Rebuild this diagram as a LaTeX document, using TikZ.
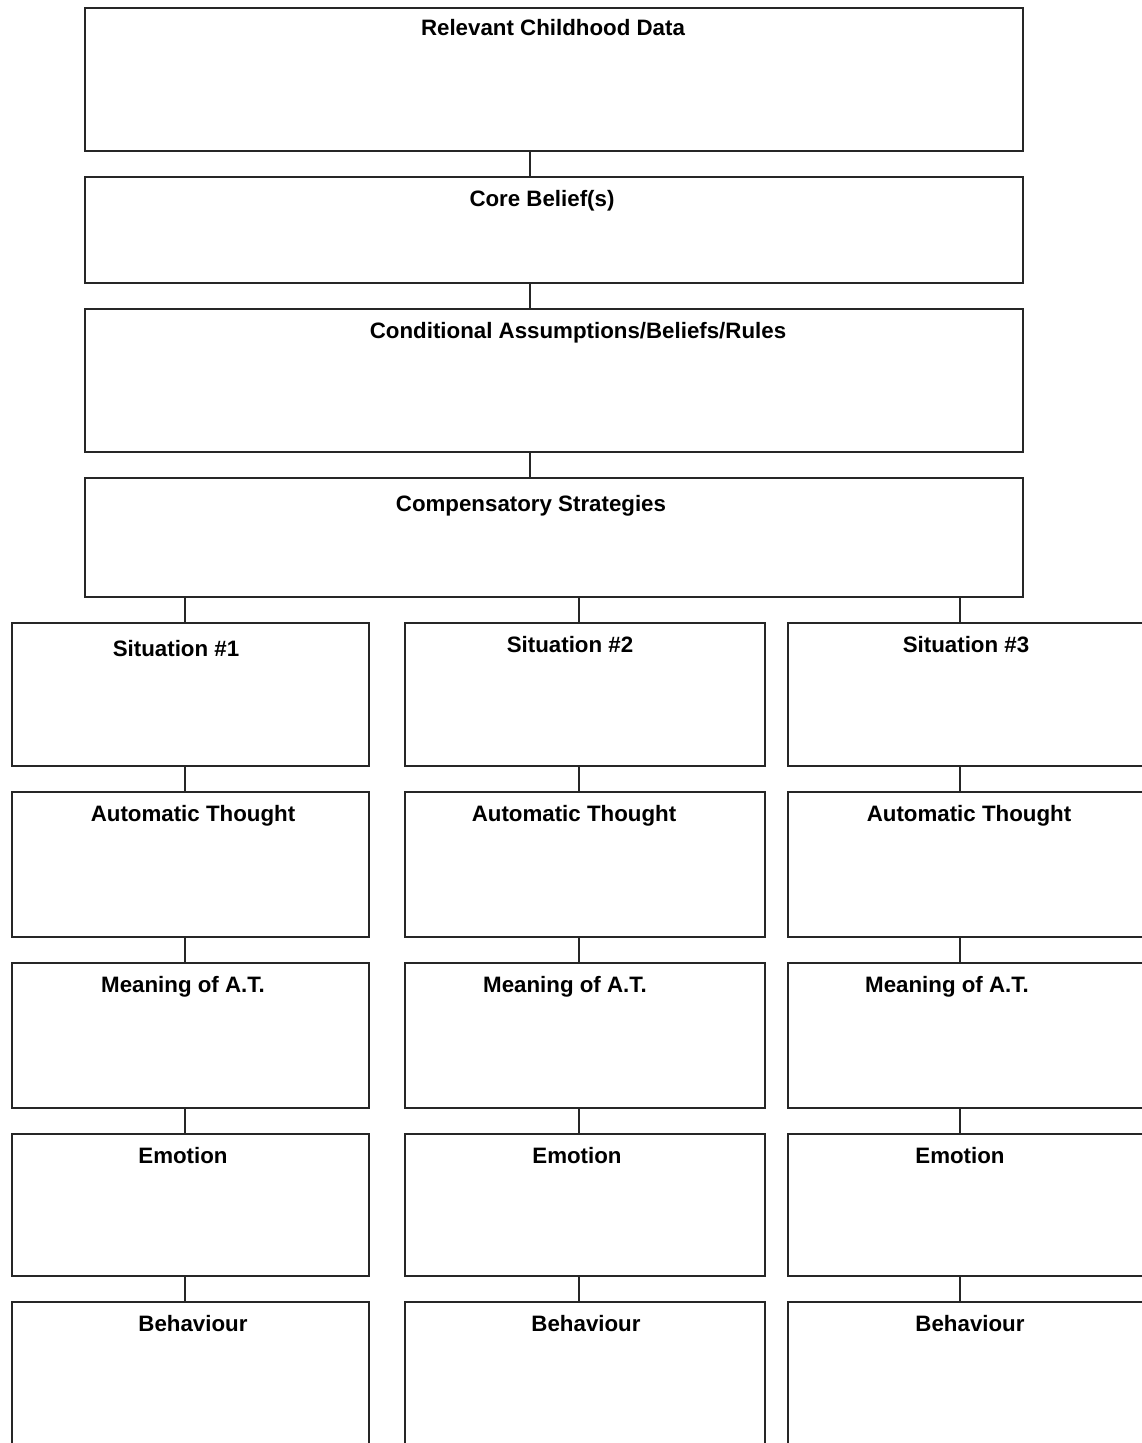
\documentclass[tikz,border=0pt]{standalone}
\usepackage{fontspec}
\setmainfont{Liberation Sans}
\begin{document}
\begin{tikzpicture}[x=1pt,y=-1pt,
  box/.style={draw=black!85, line width=2pt, fill=white, inner sep=0pt, outer sep=0pt, rectangle},
  wide/.style={box, minimum width=938pt},
  title/.style={font=\fontsize{22.3}{25}\selectfont\bfseries, anchor=base, inner sep=0pt, text=black},
  link/.style={draw=black!85, line width=2pt}]
\useasboundingbox (0,0) rectangle (1142,1443);
\clip (0,0) rectangle (1142,1443);
\fill[white] (0,0) rectangle (1142,1443);
% top stack
\node[wide, minimum height=143pt] (rc) at (554,79.5) {};
\node[wide, minimum height=106pt] (cb) at (554,230) {};
\node[wide, minimum height=143pt] (ca) at (554,380.5) {};
\node[wide, minimum height=119pt] (cs) at (554,537.5) {};
\coordinate (xm) at (530,0);
\draw[link] (rc.south -| xm) -- (cb.north -| xm);
\draw[link] (cb.south -| xm) -- (ca.north -| xm);
\draw[link] (ca.south -| xm) -- (cs.north -| xm);
\node[title] (trc) at (553,35) {Relevant Childhood Data};
\node[title] (tcb) at (542,206) {Core Belief(s)};
\node[title] (tca) at (578,338) {Conditional Assumptions/Beliefs/Rules};
\node[title] (tcs) at (531,511) {Compensatory Strategies};
% three columns
\foreach \col/\xc/\w/\xl in {1/190.5/357/185, 2/585/360/579, 3/979/382/960}{
  \coordinate (x\col) at (\xl,0);
  \node[box, minimum width=\w pt, minimum height=143pt] (s\col) at (\xc,694.5) {};
  \node[box, minimum width=\w pt, minimum height=145pt] (a\col) at (\xc,864.5) {};
  \node[box, minimum width=\w pt, minimum height=145pt] (m\col) at (\xc,1035.5) {};
  \node[box, minimum width=\w pt, minimum height=142pt] (e\col) at (\xc,1205) {};
  \node[box, minimum width=\w pt, minimum height=168pt] (b\col) at (\xc,1386) {};
  \draw[link] (cs.south -| x\col) -- (s\col.north -| x\col);
  \draw[link] (s\col.south -| x\col) -- (a\col.north -| x\col);
  \draw[link] (a\col.south -| x\col) -- (m\col.north -| x\col);
  \draw[link] (m\col.south -| x\col) -- (e\col.north -| x\col);
  \draw[link] (e\col.south -| x\col) -- (b\col.north -| x\col);
}
\node[title] (ts1) at (176,656) {Situation \#1};
\node[title] (ts2) at (570,652) {Situation \#2};
\node[title] (ts3) at (966,652) {Situation \#3};
\node[title] (ta1) at (193,821) {Automatic Thought};
\node[title] (ta2) at (574,821) {Automatic Thought};
\node[title] (ta3) at (969,821) {Automatic Thought};
\node[title] (tm1) at (183,992) {Meaning of A.T.};
\node[title] (tm2) at (565,992) {Meaning of A.T.};
\node[title] (tm3) at (947,992) {Meaning of A.T.};
\node[title] (te1) at (183,1163) {Emotion};
\node[title] (te2) at (577,1163) {Emotion};
\node[title] (te3) at (960,1163) {Emotion};
\node[title] (tb1) at (193,1331) {Behaviour};
\node[title] (tb2) at (586,1331) {Behaviour};
\node[title] (tb3) at (970,1331) {Behaviour};
\end{tikzpicture}
\end{document}
